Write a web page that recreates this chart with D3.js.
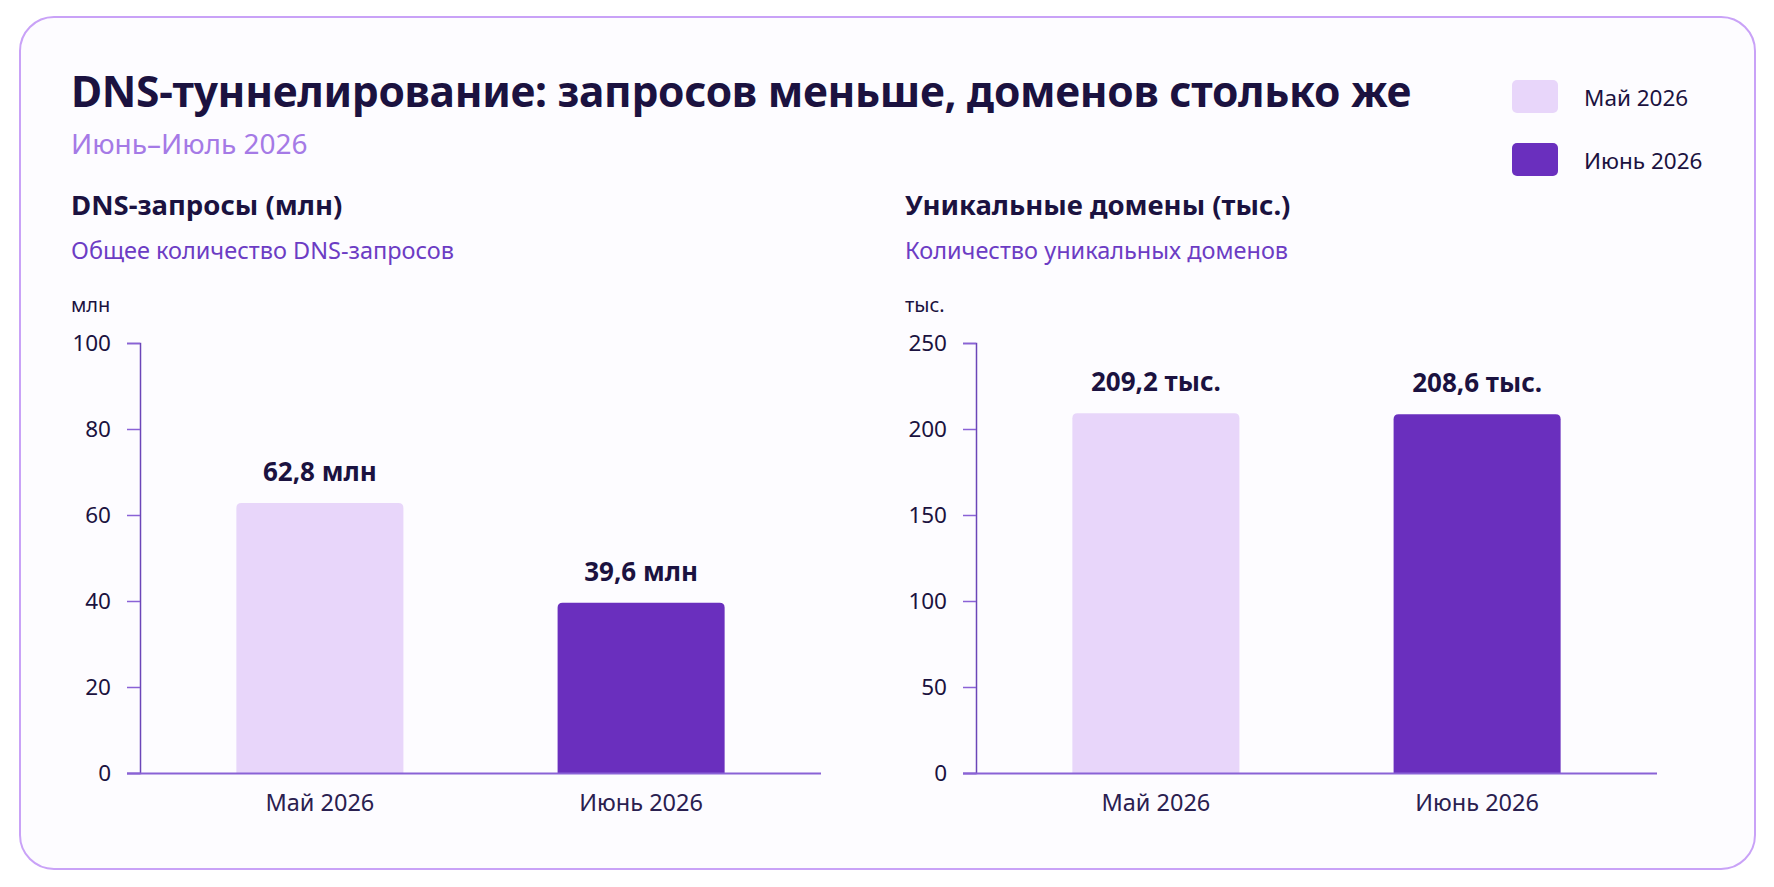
<!DOCTYPE html>
<html>
<head>
<meta charset="utf-8">
<script src="https://cdn.jsdelivr.net/npm/d3@7"></script>
<style>
  html, body { margin: 0; padding: 0; background: #ffffff; }
  svg { display: block; }
  text { font-family: "Noto Sans", "Open Sans", sans-serif; }
</style>
</head>
<body>
<svg id="chart" width="1774" height="887"></svg>
<script>
// ---- data ----
const title = "DNS-туннелирование: запросов меньше, доменов столько же";
const subtitle = "Июнь–Июль 2026";
const categories = ["Май 2026", "Июнь 2026"];
const requestsValues = [62.8, 39.6];          // млн
const requestsLabels = ["62,8 млн", "39,6 млн"];
const requestsTicks = [0, 20, 40, 60, 80, 100];
const domainsValues = [209.2, 208.6];         // тыс.
const domainsLabels = ["209,2 тыс.", "208,6 тыс."];
const domainsTicks = [0, 50, 100, 150, 200, 250];
const seriesColors = ["#e8d6fa", "#6a2fbe"];

const panels = [
  { heading: "DNS-запросы (млн)", desc: "Общее количество DNS-запросов", unit: "млн",
    values: requestsValues, labels: requestsLabels, ticks: requestsTicks, max: 100, x0: 140, textX: 71 },
  { heading: "Уникальные домены (тыс.)", desc: "Количество уникальных доменов", unit: "тыс.",
    values: domainsValues, labels: domainsLabels, ticks: domainsTicks, max: 250, x0: 976, textX: 905 }
];

const svg = d3.select("#chart");
const navy = "#1b1240";

// card
svg.append("rect").attr("x", 20).attr("y", 17).attr("width", 1735).attr("height", 852)
  .attr("rx", 34).attr("fill", "#fdfcff").attr("stroke", "#c9a2f7").attr("stroke-width", 2);

// titles
svg.append("text").attr("x", 71).attr("y", 107).text(title)
  .attr("font-size", 42.5).attr("font-weight", 700).attr("fill", navy).attr("letter-spacing", -0.3);
svg.append("text").attr("x", 71).attr("y", 154).text(subtitle)
  .attr("font-size", 28).attr("fill", "#a57ae6");

// legend
categories.forEach((c, i) => {
  const y = 80 + i * 63;
  svg.append("rect").attr("x", 1512).attr("y", y).attr("width", 46).attr("height", 33)
    .attr("rx", 5).attr("fill", seriesColors[i]);
  svg.append("text").attr("x", 1584).attr("y", y + 26).text(c)
    .attr("font-size", 22.5).attr("fill", navy);
});

const yTop = 343, yBottom = 773, plotW = 681;

panels.forEach(p => {
  svg.append("text").attr("x", p.textX).attr("y", 215).text(p.heading)
    .attr("font-size", 27.5).attr("font-weight", 700).attr("fill", navy);
  svg.append("text").attr("x", p.textX).attr("y", 259).text(p.desc)
    .attr("font-size", 23.5).attr("fill", "#6c3cc4");
  svg.append("text").attr("x", p.textX).attr("y", 312).text(p.unit)
    .attr("font-size", 20).attr("fill", navy);

  const x = d3.scaleBand().domain(categories).range([p.x0, p.x0 + plotW])
    .paddingInner(0.48).paddingOuter(0.3);
  const y = d3.scaleLinear().domain([0, p.max]).range([yBottom, yTop]);

  const g = svg.append("g");

  // bars
  g.selectAll("path.bar").data(p.values).enter().append("path")
    .attr("class", "bar")
    .attr("fill", (d, i) => seriesColors[i])
    .attr("d", (d, i) => {
      const bx = x(categories[i]), bw = x.bandwidth(), by = y(d), bh = yBottom - y(d), r = 5;
      return `M${bx},${by + bh} V${by + r} Q${bx},${by} ${bx + r},${by} H${bx + bw - r} Q${bx + bw},${by} ${bx + bw},${by + r} V${by + bh} Z`;
    });

  // value labels
  g.selectAll("text.val").data(p.values).enter().append("text")
    .attr("x", (d, i) => x(categories[i]) + x.bandwidth() / 2)
    .attr("y", d => y(d) - 22)
    .attr("text-anchor", "middle")
    .attr("font-size", 26).attr("font-weight", 700).attr("fill", navy)
    .text((d, i) => p.labels[i]);

  // y axis
  const yAxis = g.append("g").attr("transform", `translate(${p.x0},0)`)
    .call(d3.axisLeft(y).tickValues(p.ticks).tickSize(13).tickPadding(16).tickFormat(d3.format("d")));
  yAxis.select(".domain").attr("stroke", "#6b45b8").attr("stroke-width", 1.5);
  yAxis.selectAll(".tick line").attr("stroke", "#8a62d6").attr("stroke-width", 1.5);
  yAxis.selectAll(".tick text").attr("font-size", 22.5).attr("fill", navy)
    .attr("font-family", "'Noto Sans', sans-serif");

  // x axis
  const xAxis = g.append("g").attr("transform", `translate(0,${yBottom})`)
    .call(d3.axisBottom(x).tickSize(0).tickPadding(21));
  xAxis.select(".domain").attr("d", `M${p.x0 - 13},0.5H${p.x0 + plotW}`)
    .attr("stroke", "#8a62d6").attr("stroke-width", 2);
  xAxis.selectAll(".tick text").attr("font-size", 23.5).attr("fill", "#2a2050")
    .attr("font-family", "'Noto Sans', sans-serif");
});
</script>
</body>
</html>
